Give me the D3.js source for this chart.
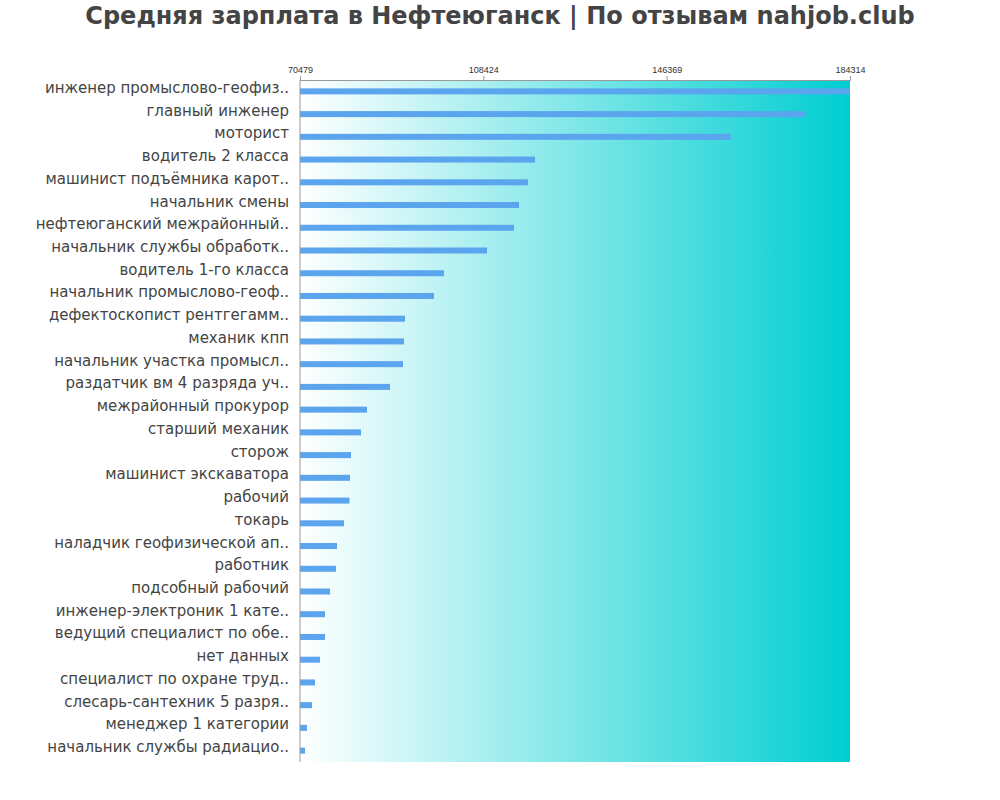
<!DOCTYPE html>
<html>
<head>
<meta charset="utf-8">
<script src="https://cdn.jsdelivr.net/npm/d3@7"></script>
<style>
  body { margin: 0; background: #fff; }
</style>
</head>
<body>
<div id="chart"></div>
<script>
const jobs = [
  "инженер промыслово-геофиз..", "главный инженер", "моторист", "водитель 2 класса",
  "машинист подъёмника карот..", "начальник смены", "нефтеюганский межрайонный..",
  "начальник службы обработк..", "водитель 1-го класса", "начальник промыслово-геоф..",
  "дефектоскопист рентгегамм..", "механик кпп", "начальник участка промысл..",
  "раздатчик вм 4 разряда уч..", "межрайонный прокурор", "старший механик", "сторож",
  "машинист экскаватора", "рабочий", "токарь", "наладчик геофизической ап..", "работник",
  "подсобный рабочий", "инженер-электроник 1 кате..", "ведущий специалист по обе..",
  "нет данных", "специалист по охране труд..", "слесарь-сантехник 5 разря..",
  "менеджер 1 категории", "начальник службы радиацио.."
];
const salaries = [
  184314, 175198, 159676, 119113, 117664, 115802, 114767, 109179, 100280, 98211,
  92209, 92002, 91795, 89105, 84345, 83103, 81034, 80827, 80720, 79585,
  78136, 77929, 76688, 75653, 75653, 74618, 73583, 72962, 71928, 71514
];
const tickValues = [70479, 108424, 146369, 184314];

const width = 1000, height = 800;
const margin = { top: 80, right: 150, bottom: 38, left: 300 };

const svg = d3.select("#chart").append("svg")
  .attr("width", width).attr("height", height)
  .style("font-family", "DejaVu Sans, sans-serif");

const x = d3.scaleLinear([70479, 184314], [margin.left, width - margin.right]);
const y = d3.scaleBand(jobs, [margin.top, height - margin.bottom]);

// gradient background
const grad = svg.append("defs").append("linearGradient").attr("id", "bg");
grad.append("stop").attr("offset", "0%").attr("stop-color", "#fff");
grad.append("stop").attr("offset", "100%").attr("stop-color", "#00CED1");
svg.append("rect")
  .attr("x", margin.left).attr("y", margin.top)
  .attr("width", x.range()[1] - margin.left)
  .attr("height", height - margin.bottom - margin.top)
  .attr("fill", "url(#bg)");

// bars
svg.append("g").selectAll("rect").data(jobs).join("rect")
  .attr("x", margin.left)
  .attr("y", d => y(d) + y.bandwidth() / 2 - 3)
  .attr("width", (d, i) => x(salaries[i]) - margin.left)
  .attr("height", 6)
  .attr("fill", "#5ba4ee");

// top axis
const xAxis = svg.append("g")
  .attr("transform", `translate(0,${margin.top})`)
  .call(d3.axisTop(x).tickValues(tickValues).tickFormat(d3.format("d")).tickSize(4));
xAxis.selectAll("text").style("font-size", "9px").attr("fill", "#333");
xAxis.selectAll("line,path").attr("stroke", "#999");

// left axis line
svg.append("line")
  .attr("x1", margin.left).attr("x2", margin.left)
  .attr("y1", margin.top).attr("y2", height - margin.bottom)
  .attr("stroke", "#999");

// labels
svg.append("g").selectAll("text").data(jobs).join("text")
  .attr("x", margin.left - 11)
  .attr("y", d => y(d) + y.bandwidth() / 2 - 3)
  .attr("text-anchor", "end")
  .attr("dominant-baseline", "middle")
  .style("font-size", "15px")
  .attr("fill", "#444")
  .text(d => d);

// title
svg.append("text")
  .attr("x", width / 2).attr("y", 24)
  .attr("text-anchor", "middle")
  .style("font-size", "24px").style("font-weight", "bold")
  .attr("fill", "#444")
  .text("Средняя зарплата в Нефтеюганск | По отзывам nahjob.club");
</script>
</body>
</html>
